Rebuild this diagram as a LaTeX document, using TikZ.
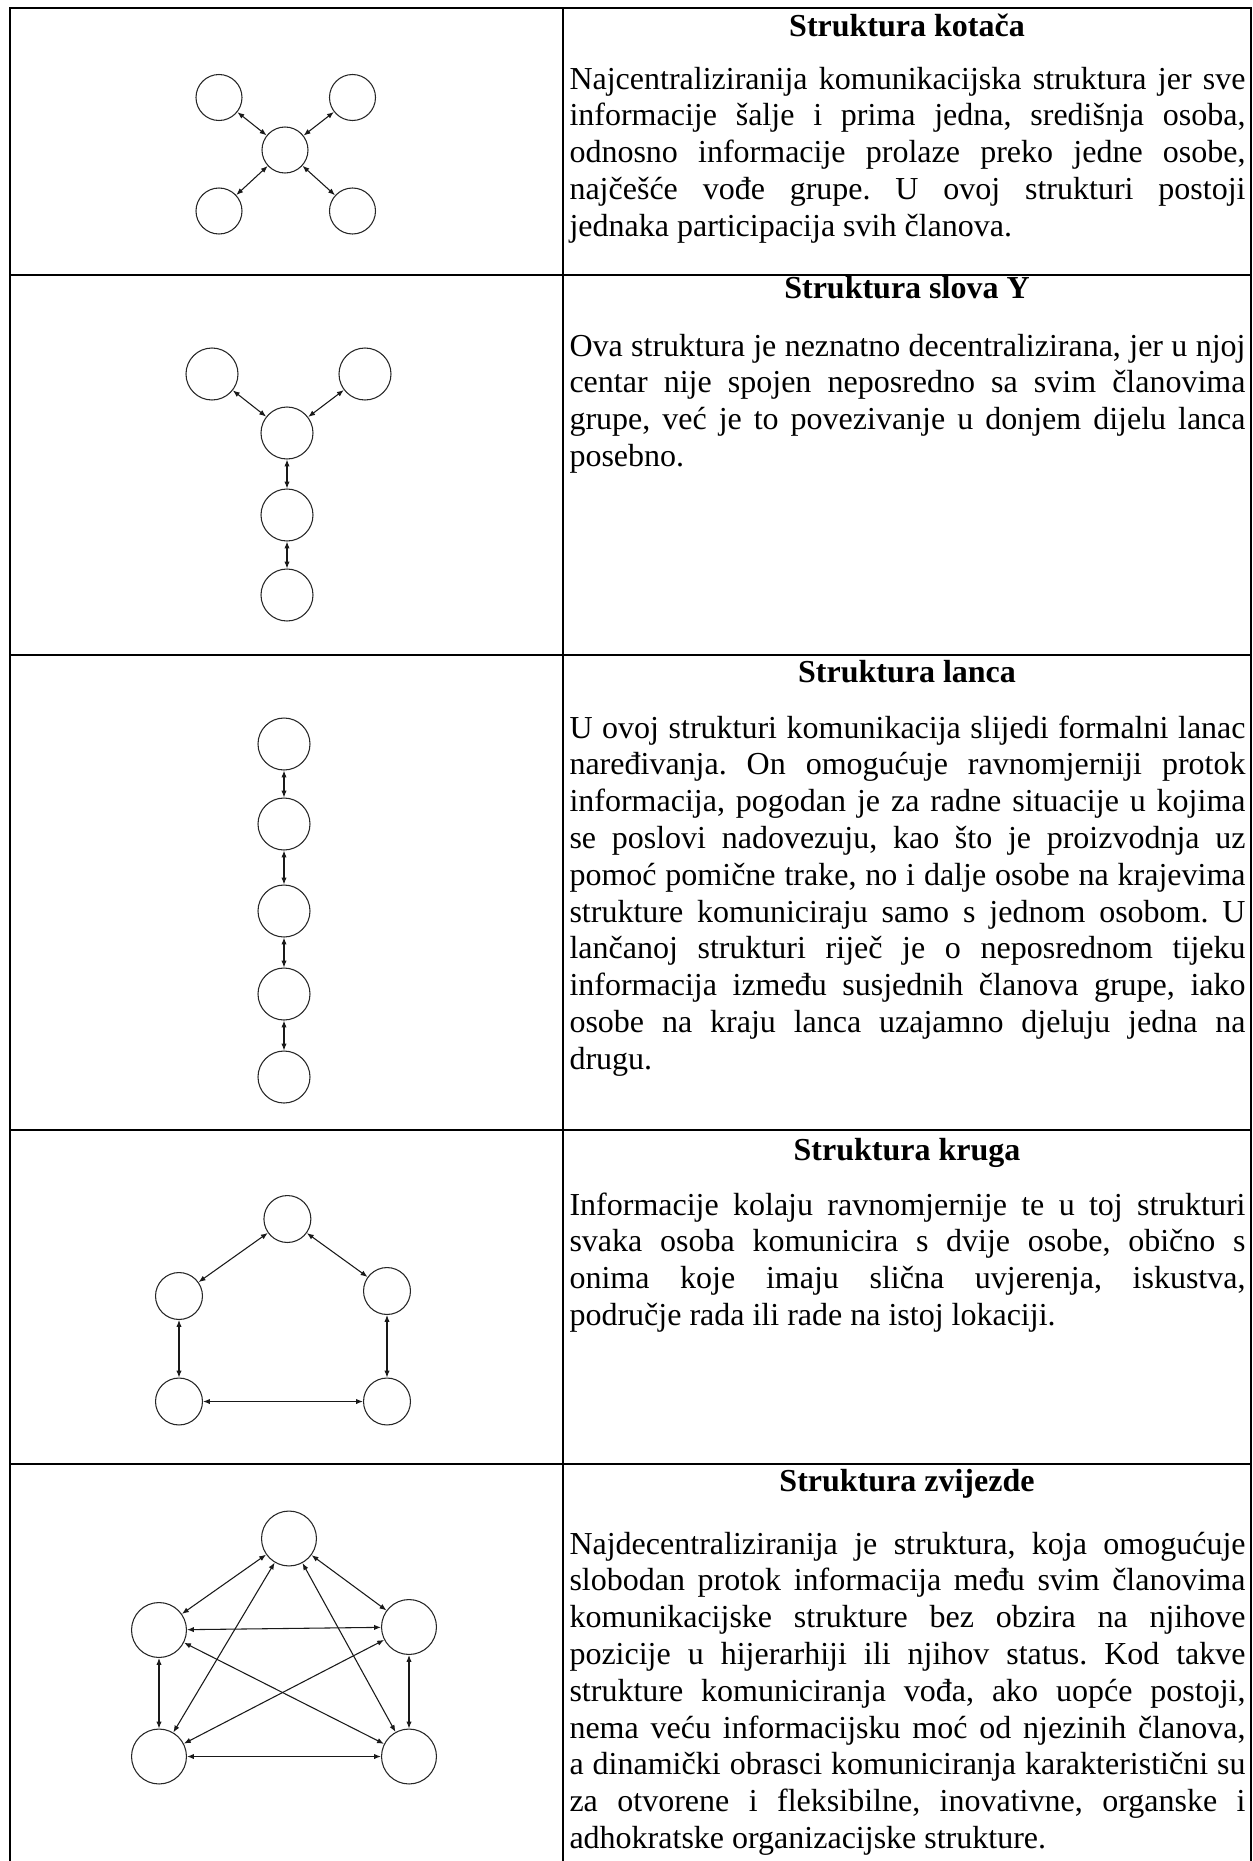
\documentclass[tikz,border=0pt]{standalone}
\usepackage{fontspec}
\setmainfont{Liberation Serif}
\usetikzlibrary{arrows.meta}
\frenchspacing
\newlength\tw
\setlength\tw{253.5pt}
\newcommand\jl[1]{\hbox to \tw{#1}}
\newcommand\lastline[1]{\hbox{#1}}
\newcommand\bodytext[1]{\vtop{\hsize=\tw\baselineskip=13.8pt\lineskiplimit=-20pt\parindent=0pt\frenchspacing #1}}
\begin{document}
\begin{tikzpicture}[x=0.375pt,y=-0.375pt,
  frame/.style={line width=0.75pt,line cap=rect},
  pers/.style={circle,draw=black!85,line width=0.4pt,inner sep=0pt,minimum size=#1},
  link/.style={{Latex[length=2.6pt,width=2pt]}-{Latex[length=2.6pt,width=2pt]},line width=0.4pt,draw=black!90},
  ttl/.style={anchor=base,inner sep=0pt,font=\fontsize{12pt}{13.8pt}\selectfont\bfseries},
  body/.style={anchor=base west,inner sep=0pt,font=\fontsize{12pt}{13.8pt}\selectfont\frenchspacing}]
\useasboundingbox (0,0) rectangle (1252,1861);
% table frame
\draw[frame] (9.7,7.5) -- (1250.7,7.5);
\draw[frame] (9.7,275) -- (1250.7,275);
\draw[frame] (9.7,655) -- (1250.7,655);
\draw[frame] (9.7,1130) -- (1250.7,1130);
\draw[frame] (9.7,1464) -- (1250.7,1464);
\draw[frame] (9.7,7.5) -- (9.7,1870);
\draw[frame] (563,7.5) -- (563,1870);
\draw[frame] (1250.7,7.5) -- (1250.7,1870);

% ---- Row 1: wheel
\node[pers=17.25pt] (kc) at (285,150) {};
\node[pers=17.25pt] (ktl) at (219,97.5) {};
\node[pers=17.25pt] (ktr) at (352.5,97.5) {};
\node[pers=17.25pt] (kbl) at (219,211) {};
\node[pers=17.25pt] (kbr) at (352.5,211) {};
\draw[link] (kc) -- (ktl);
\draw[link] (kc) -- (ktr);
\draw[link] (kc) -- (kbl);
\draw[link] (kc) -- (kbr);
\node[ttl] (t1) at (907,36) {Struktura kotača};
\node[body] (b1) at (569,89) {\bodytext{%
\jl{Najcentraliziranija komunikacijska struktura jer sve}
\jl{informacije šalje i prima jedna, središnja osoba,}
\jl{odnosno informacije prolaze preko jedne osobe,}
\jl{najčešće vođe grupe. U ovoj strukturi postoji}
\lastline{jednaka participacija svih članova.}}};

% ---- Row 2: Y
\node[pers=19.5pt] (ytl) at (212,374) {};
\node[pers=19.5pt] (ytr) at (365,374) {};
\node[pers=19.5pt] (yc) at (287,433) {};
\node[pers=19.5pt] (ym) at (287,515) {};
\node[pers=19.5pt] (yb) at (287,595) {};
\draw[link] (yc) -- (ytl);
\draw[link] (yc) -- (ytr);
\draw[link] (yc) -- (ym);
\draw[link] (ym) -- (yb);
\node[ttl] (t2) at (907,298) {Struktura slova Y};
\node[body] (b2) at (569,356) {\bodytext{%
\jl{Ova struktura je neznatno decentralizirana, jer u njoj}
\jl{centar nije spojen neposredno sa svim članovima}
\jl{grupe, već je to povezivanje u donjem dijelu lanca}
\lastline{posebno.}}};

% ---- Row 3: chain
\node[pers=19.5pt] (l1) at (284,744) {};
\node[pers=19.5pt] (l2) at (284,824) {};
\node[pers=19.5pt] (l3) at (284,911) {};
\node[pers=19.5pt] (l4) at (284,994) {};
\node[pers=19.5pt] (l5) at (284,1077) {};
\draw[link] (l1) -- (l2);
\draw[link] (l2) -- (l3);
\draw[link] (l3) -- (l4);
\draw[link] (l4) -- (l5);
\node[ttl] (t3) at (907,682) {Struktura lanca};
\node[body] (b3) at (569,738) {\bodytext{%
\jl{U ovoj strukturi komunikacija slijedi formalni lanac}
\jl{naređivanja. On omogućuje ravnomjerniji protok}
\jl{informacija, pogodan je za radne situacije u kojima}
\jl{se poslovi nadovezuju, kao što je proizvodnja uz}
\jl{pomoć pomične trake, no i dalje osobe na krajevima}
\jl{strukture komuniciraju samo s jednom osobom. U}
\jl{lančanoj strukturi riječ je o neposrednom tijeku}
\jl{informacija između susjednih članova grupe, iako}
\jl{osobe na kraju lanca uzajamno djeluju jedna na}
\lastline{drugu.}}};

% ---- Row 4: ring
\node[pers=17.6pt] (rt) at (287.4,1219) {};
\node[pers=17.6pt] (rl) at (179,1296) {};
\node[pers=17.6pt] (rr) at (387,1291) {};
\node[pers=17.6pt] (rbl) at (179,1401.5) {};
\node[pers=17.6pt] (rbr) at (387,1401.5) {};
\draw[link] (rt) -- (rl);
\draw[link] (rt) -- (rr);
\draw[link] (rl) -- (rbl);
\draw[link] (rr) -- (rbr);
\draw[link] (rbl) -- (rbr);
\node[ttl] (t4) at (907,1160) {Struktura kruga};
\node[body] (b4) at (569,1215) {\bodytext{%
\jl{Informacije kolaju ravnomjernije te u toj strukturi}
\jl{svaka osoba komunicira s dvije osobe, obično s}
\jl{onima koje imaju slična uvjerenja, iskustva,}
\lastline{područje rada ili rade na istoj lokaciji.}}};

% ---- Row 5: star
\node[pers=20.6pt] (zt) at (289,1538.5) {};
\node[pers=20.6pt] (zl) at (159,1630) {};
\node[pers=20.6pt] (zr) at (409,1627) {};
\node[pers=20.6pt] (zbl) at (159,1756.5) {};
\node[pers=20.6pt] (zbr) at (409,1756.5) {};
\draw[link] (zt) -- (zl);
\draw[link] (zt) -- (zr);
\draw[link] (zt) -- (zbl);
\draw[link] (zt) -- (zbr);
\draw[link] (zl) -- (zr);
\draw[link] (zl) -- (zbl);
\draw[link] (zl) -- (zbr);
\draw[link] (zr) -- (zbl);
\draw[link] (zr) -- (zbr);
\draw[link] (zbl) -- (zbr);
\node[ttl] (t5) at (907,1491) {Struktura zvijezde};
\node[body] (b5) at (569,1554) {\bodytext{%
\jl{Najdecentraliziranija je struktura, koja omogućuje}
\jl{slobodan protok informacija među svim članovima}
\jl{komunikacijske strukture bez obzira na njihove}
\jl{pozicije u hijerarhiji ili njihov status. Kod takve}
\jl{strukture komuniciranja vođa, ako uopće postoji,}
\jl{nema veću informacijsku moć od njezinih članova,}
\jl{a dinamički obrasci komuniciranja karakteristični su}
\jl{za otvorene i fleksibilne, inovativne, organske i}
\lastline{adhokratske organizacijske strukture.}}};
\end{tikzpicture}
\end{document}
